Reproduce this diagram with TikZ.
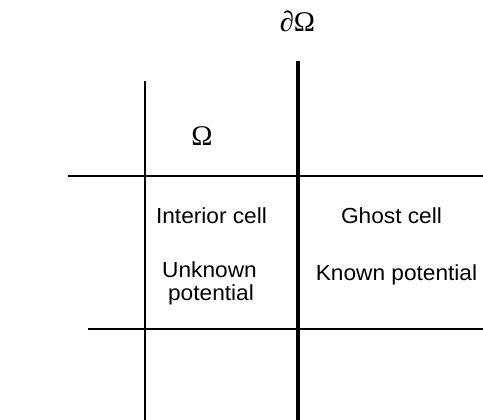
\documentclass[tikz,border=0pt]{standalone}
\usepackage{fontspec}
\setmainfont[FakeStretch=1.04]{Liberation Sans}
\newfontfamily\greekfont{Liberation Serif}
\begin{document}
\begin{tikzpicture}[x=1pt,y=-1pt,
  gridline/.style={line width=1.7pt,black},
  boundary/.style={line width=4.8pt,black},
  label/.style={inner sep=0pt,anchor=base,font=\fontsize{21.8}{24}\selectfont},
  symb/.style={inner sep=0pt,anchor=base,font=\greekfont\fontsize{28.5}{31}\selectfont}]
  \useasboundingbox (0,0) rectangle (483,420);
  % grid corners
  \coordinate (vT) at (145,81);
  \coordinate (vB) at (145,420);
  \coordinate (bT) at (298,61);
  \coordinate (bB) at (298,420);
  \coordinate (h1L) at (67.5,176.3);
  \coordinate (h1R) at (483,176.3);
  \coordinate (h2L) at (87.5,329.3);
  \coordinate (h2R) at (483,329.3);
  % cell lines
  \draw[gridline] (vT) -- (vB);
  \draw[gridline] (h1L) -- (h1R);
  \draw[gridline] (h2L) -- (h2R);
  % domain boundary
  \draw[boundary] (bT) -- (bB);
  % labels
  \node[symb] (dom) at (297.5,32) {∂Ω};
  \node[symb] (omega) at (202,146) {Ω};
  \node[label] (interior) at (211.5,223) {Interior cell};
  \node[label] (ghost) at (391.5,223) {Ghost cell};
  \node[label] (unk1) at (209.5,277) {Unknown};
  \node[label] (unk2) at (211,300) {potential};
  \node[label] (known) at (396.5,280) {Known potential};
\end{tikzpicture}
\end{document}
